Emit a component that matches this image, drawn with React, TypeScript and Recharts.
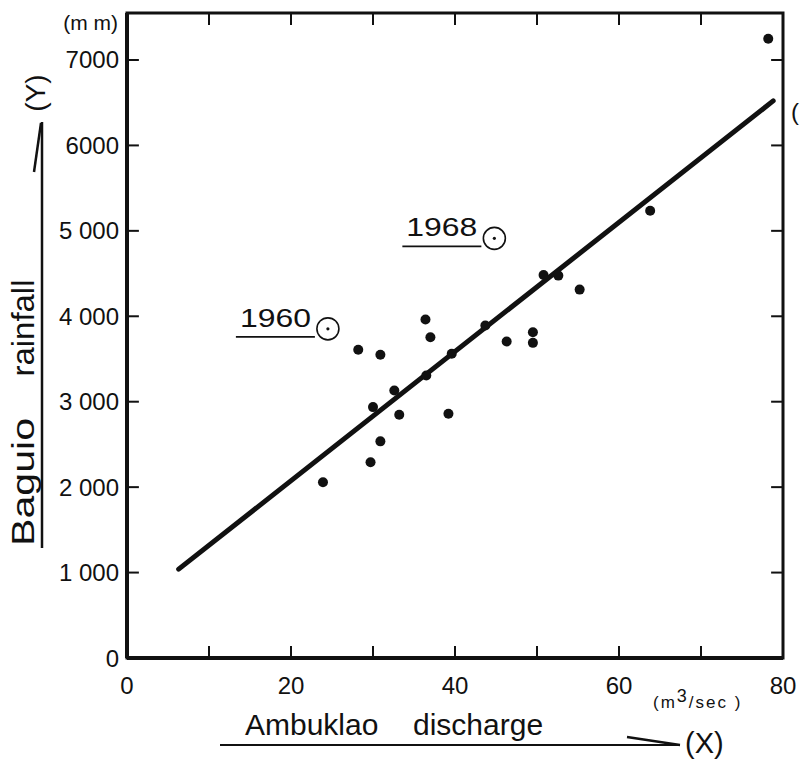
import React from 'react';
import { ScatterChart, Scatter, XAxis, YAxis, ReferenceLine, ReferenceArea } from 'recharts';

const FONT = '"Liberation Sans", Arial, Helvetica, sans-serif';
const INK = '#111';

// Yearly Ambuklao discharge (m3/sec) and Baguio rainfall (mm)
const dischargeValues = [23.9, 28.2, 29.7, 30.0, 30.9, 30.9, 32.6, 33.2, 36.4, 36.5, 37.0, 39.2, 39.6, 43.7, 46.3, 49.5, 49.5, 50.8, 52.6, 55.2, 63.8, 78.2];
const rainfallValues = [2057, 3608, 2291, 2937, 3549, 2536, 3132, 2848, 3962, 3307, 3755, 2860, 3561, 3892, 3705, 3813, 3689, 4484, 4476, 4312, 5235, 7249];

// Years singled out on the plot
const outlierYears = ['1960', '1968'];
const outlierDischarge = [24.5, 44.8];
const outlierRainfall = [3853, 4912];

// Fitted regression line end points
const fitDischarge = [6.3, 78.8];
const fitRainfall = [1040, 6521];

// Axis ticks
const xTicks = [0, 20, 40, 60, 80];
const xTickMarks = [10, 20, 30, 40, 50, 60, 70];
const yTicks = [0, 1000, 2000, 3000, 4000, 5000, 6000, 7000];
const yTickLabels = ['0', '1 000', '2 000', '3 000', '4 000', '5 000', '6000', '7000'];
const yTickMarks = [1000, 2000, 3000, 4000, 5000, 6000, 7000];

const X_MAX = 80;
const Y_MAX = 7550;
const X_TICK_LEN = 1.45; // in discharge units
const Y_TICK_LEN = 140; // in rainfall units

const points = dischargeValues.map((x, i) => ({ x, y: rainfallValues[i] }));
const outliers = outlierYears.map((year, i) => ({ x: outlierDischarge[i], y: outlierRainfall[i], year }));

const Dot = (props: any) => {
  const { cx, cy } = props;
  return <circle cx={cx} cy={cy} r={5} fill={INK} />;
};

const YearMark = (props: any) => {
  const { cx, cy, payload } = props;
  return (
    <g>
      <circle cx={cx} cy={cy} r={11} fill="none" stroke={INK} strokeWidth={1.6} />
      <circle cx={cx} cy={cy} r={1.6} fill={INK} />
      <text
        x={cx - 88}
        y={cy - 2}
        fontFamily={FONT}
        fontSize={25}
        fill={INK}
        textLength={71}
        lengthAdjust="spacingAndGlyphs"
      >
        {payload.year}
      </text>
      <line x1={cx - 92} x2={cx - 13} y1={cy + 8} y2={cy + 8} stroke={INK} strokeWidth={1.6} />
    </g>
  );
};

const XTick = (props: any) => {
  const { x, y, payload } = props;
  return (
    <text x={x} y={y} dy={28} textAnchor="middle" fontFamily={FONT} fontSize={24} fill={INK}>
      {payload.value}
    </text>
  );
};

const YTick = (props: any) => {
  const { x, y, payload } = props;
  const idx = yTicks.indexOf(payload.value);
  return (
    <text x={x} y={y} dy={8.5} textAnchor="end" fontFamily={FONT} fontSize={24} fill={INK}>
      {idx >= 0 ? yTickLabels[idx] : payload.value}
    </text>
  );
};

export default function App() {
  return (
    <div style={{ position: 'absolute', left: 0, top: 0, width: 800, height: 759, background: '#fff' }}>
      <ScatterChart width={800} height={759} margin={{ top: 13, right: 17, bottom: 0, left: 0 }}>
        <XAxis
          type="number"
          dataKey="x"
          domain={[0, X_MAX]}
          ticks={xTicks}
          tick={<XTick />}
          tickLine={false}
          axisLine={{ stroke: INK, strokeWidth: 4 }}
          height={101}
          allowDataOverflow
        />
        <YAxis
          type="number"
          dataKey="y"
          domain={[0, Y_MAX]}
          ticks={yTicks}
          tick={<YTick />}
          tickLine={false}
          axisLine={{ stroke: INK, strokeWidth: 4 }}
          width={127}
          allowDataOverflow
        />
        <ReferenceArea x1={0} x2={X_MAX} y1={0} y2={Y_MAX} fill="none" stroke={INK} strokeWidth={3} ifOverflow="visible" />
        {xTickMarks.map((v) => (
          <ReferenceLine key={`xb${v}`} segment={[{ x: v, y: 0 }, { x: v, y: Y_TICK_LEN }]} stroke={INK} strokeWidth={2} />
        ))}
        {xTickMarks.map((v) => (
          <ReferenceLine key={`xt${v}`} segment={[{ x: v, y: Y_MAX }, { x: v, y: Y_MAX - Y_TICK_LEN }]} stroke={INK} strokeWidth={2} />
        ))}
        {yTickMarks.map((v) => (
          <ReferenceLine key={`yl${v}`} segment={[{ x: 0, y: v }, { x: X_TICK_LEN, y: v }]} stroke={INK} strokeWidth={2} />
        ))}
        {yTickMarks.map((v) => (
          <ReferenceLine key={`yr${v}`} segment={[{ x: X_MAX, y: v }, { x: X_MAX - X_TICK_LEN, y: v }]} stroke={INK} strokeWidth={2} />
        ))}
        <ReferenceLine
          segment={[
            { x: fitDischarge[0], y: fitRainfall[0] },
            { x: fitDischarge[1], y: fitRainfall[1] },
          ]}
          stroke={INK}
          strokeWidth={5}
          strokeLinecap="round"
        />
        <Scatter data={points} shape={<Dot />} isAnimationActive={false} />
        <Scatter data={outliers} shape={<YearMark />} isAnimationActive={false} />
      </ScatterChart>
      <svg
        width={800}
        height={759}
        style={{ position: 'absolute', left: 0, top: 0, pointerEvents: 'none' }}
      >
        {/* y units */}
        <text x={118} y={30} textAnchor="end" fontFamily={FONT} fontSize={21} fill={INK}>(m m)</text>
        {/* y title with arrow */}
        <text transform="translate(34,482) rotate(-90)" textAnchor="middle" fontFamily={FONT} fontSize={31} fill={INK} textLength={128} lengthAdjust="spacingAndGlyphs">Baguio</text>
        <text transform="translate(34,328) rotate(-90)" textAnchor="middle" fontFamily={FONT} fontSize={31} fill={INK} textLength={97} lengthAdjust="spacingAndGlyphs">rainfall</text>
        <line x1={42} x2={42} y1={122} y2={548} stroke={INK} strokeWidth={2.5} />
        <line x1={41} x2={34} y1={123} y2={172} stroke={INK} strokeWidth={2.5} />
        <text transform="translate(45,93) rotate(-90)" textAnchor="middle" fontFamily={FONT} fontSize={28} fill={INK}>(Y)</text>
        {/* x title with arrow */}
        <text x={245} y={735} fontFamily={FONT} fontSize={30} fill={INK}>Ambuklao</text>
        <text x={413} y={735} fontFamily={FONT} fontSize={30} fill={INK}>discharge</text>
        <line x1={220} x2={680} y1={745} y2={745} stroke={INK} strokeWidth={2} />
        <line x1={627} x2={680} y1={737} y2={745} stroke={INK} strokeWidth={2.5} />
        <text x={685} y={753} fontFamily={FONT} fontSize={29} fill={INK}>(X)</text>
        {/* x units */}
        <text x={653} y={708} fontFamily={FONT} fontSize={17} fill={INK} letterSpacing={2}>
          (m<tspan dy={-6} fontSize={18}>3</tspan><tspan dy={6}>/sec )</tspan>
        </text>
        {/* clipped note at right edge */}
        <text x={791} y={120} fontFamily={FONT} fontSize={24} fill={INK}>(</text>
      </svg>
    </div>
  );
}
